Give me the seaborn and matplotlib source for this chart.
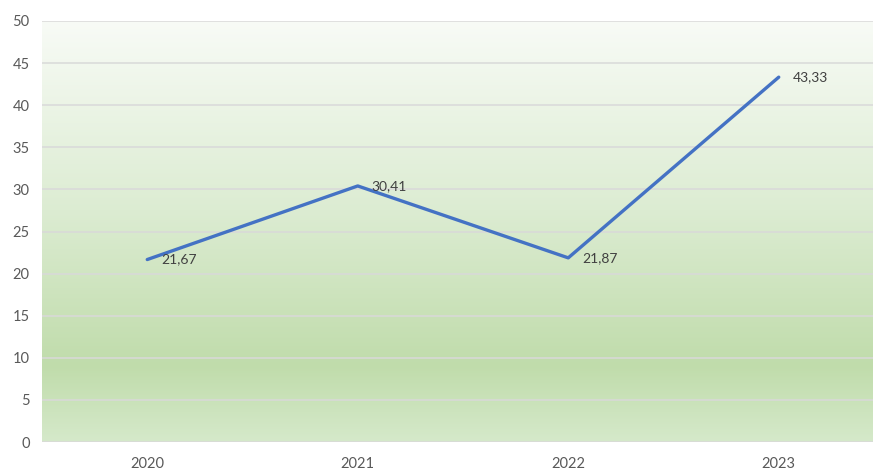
import matplotlib.pyplot as plt
import numpy as np
import pandas as pd
import seaborn as sns
from matplotlib.colors import LinearSegmentedColormap

sns.set_theme(style="white")
plt.rcParams["font.family"] = ["Lato", "DejaVu Sans"]

# Data
years = ["2020", "2021", "2022", "2023"]
values = [21.67, 30.41, 21.87, 43.33]
y_ticks = [0, 5, 10, 15, 20, 25, 30, 35, 40, 45, 50]

df = pd.DataFrame({"year": years, "value": values})
df["pos"] = range(len(df))

W, H = 873, 471
fig = plt.figure(figsize=(W / 100, H / 100), dpi=100)
ax = fig.add_axes([42 / W, (H - 442) / H, (W - 42) / W, (442 - 21) / H])

# Gradient background (white at top -> green -> lighter green at bottom)
cmap = LinearSegmentedColormap.from_list(
    "bg", [(0.0, "#d5e9ca"), (0.18, "#c0dcab"), (0.55, "#dcecd2"), (1.0, "#f8fbf6")]
)
grad = np.linspace(0, 1, 256).reshape(-1, 1)
ax.imshow(grad, cmap=cmap, aspect="auto", extent=[0, 1, 0, 1],
          transform=ax.transAxes, origin="lower", zorder=0)

for t in y_ticks:
    ax.axhline(t, color="#d9d9d9", linewidth=1.1, zorder=1)

sns.lineplot(data=df, x="pos", y="value", color="#4472C4", linewidth=2.4,
             ax=ax, zorder=3, legend=False)

for x, v in zip(df["pos"], df["value"]):
    ax.annotate(f"{v:.2f}".replace(".", ","), (x, v), xytext=(10, 0),
                textcoords="offset points", ha="left", va="center",
                fontsize=10, color="#404040", zorder=4)

ax.set_xlim(-0.5, -0.5 + (W - 42) / 210.5)
ax.set_ylim(0, 50)
ax.set_xticks(df["pos"])
ax.set_xticklabels(years)
ax.set_yticks(y_ticks)
ax.tick_params(axis="both", length=0, labelsize=10.5, colors="#595959")
ax.tick_params(axis="y", pad=9)
ax.tick_params(axis="x", pad=11)
ax.set_xlabel("")
ax.set_ylabel("")
for s in ax.spines.values():
    s.set_visible(False)

plt.savefig("out.png", dpi=100)
